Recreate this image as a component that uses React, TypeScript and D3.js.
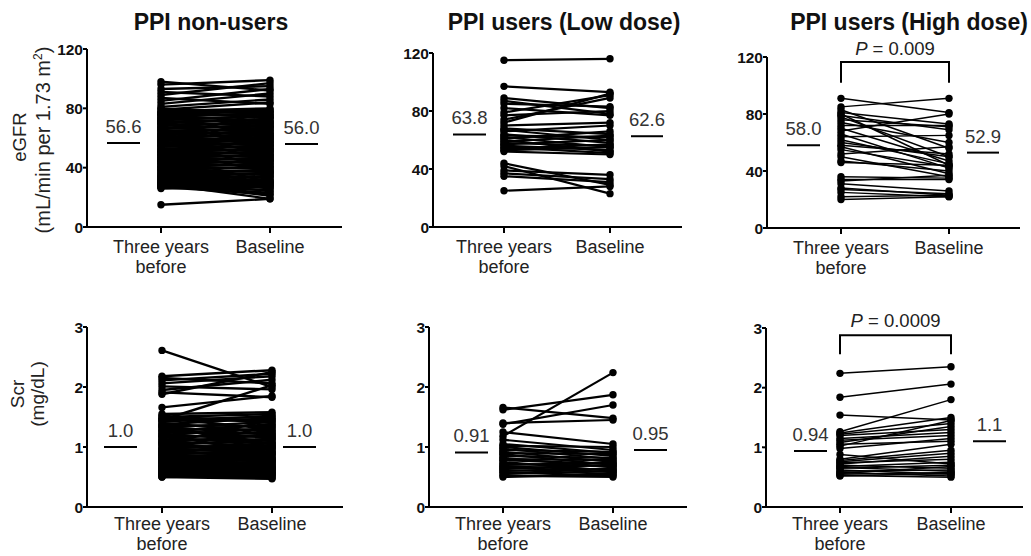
import React from "react";
import * as d3 from "d3";

// ---------- DATA ----------
const categories = ["Three years before", "Baseline"];
const categoryLines = [["Three years", "before"], ["Baseline"]];
const panelTitles = ["PPI non-users", "PPI users (Low dose)", "PPI users (High dose)"];
const egfrTicks = [0, 40, 80, 120];
const scrTicks = [0, 1, 2, 3];
const egfrMeanLabels = [["56.6", "56.0"], ["63.8", "62.6"], ["58.0", "52.9"]];
const scrMeanLabels = [["1.0", "1.0"], ["0.91", "0.95"], ["0.94", "1.1"]];
const egfrPValues = ["", "", "0.009"];
const scrPValues = ["", "", "0.0009"];

// [three years before, baseline]
const egfrNonUsers: [number, number][] = [
  [98, 92], [96, 99], [93, 95], [91, 88], [89, 97], [87, 83], [85, 93], [83, 90], [81, 86], [80, 76], [79, 84],
  [78, 80], [77, 74], [76, 78], [75, 71], [74, 77], [73, 70], [72, 75], [71, 68], [70, 73], [69, 66], [68, 71], [67, 64],
  [66, 69], [65, 62], [64, 67], [63, 60], [62, 65], [61, 58], [60, 63], [59, 57], [58, 61], [57, 55], [56, 59], [55, 53],
  [54, 57], [53, 51], [52, 55], [51, 49], [50, 53], [49, 47], [48, 51], [47, 45], [46, 49], [45, 43], [44, 47], [43, 41],
  [42, 45], [41, 39], [40, 43], [39, 37], [38, 41], [37, 35], [36, 38], [35, 33], [34, 36], [33, 31], [32, 34], [31, 29],
  [30, 31], [29, 27], [28, 29], [27, 25], [26, 27], [28, 23], [30, 21], [32, 24], [34, 26], [29, 19], [27, 22],
  [76, 60], [72, 52], [66, 48], [60, 78], [55, 74], [50, 68], [45, 62], [40, 30], [62, 45], [70, 55], [52, 37], [48, 30],
  [58, 40], [44, 28], [77, 79], [75, 76], [73, 74], [71, 72], [69, 70], [67, 68], [65, 66], [63, 64], [61, 62], [59, 60],
  [57, 58], [55, 56], [53, 54], [51, 52], [49, 50], [47, 48], [45, 46], [43, 44], [41, 42], [39, 40], [37, 38], [35, 36],
  [33, 34], [31, 32], [29, 30], [27, 28], [15, 19],
];
const egfrLowDose: [number, number][] = [
  [115, 116], [97, 93], [89, 82], [87, 78], [85, 83], [82, 77], [79, 91], [77, 80], [74, 89], [72, 92], [70, 72], [68, 64], [67, 60], [66, 70],
  [64, 58], [63, 62], [62, 55], [61, 66], [60, 52], [59, 63], [58, 56], [57, 60], [56, 53], [55, 51], [54, 57], [53, 55], [52, 50],
  [44, 29], [42, 23], [39, 36], [37, 33], [35, 31], [25, 28],
];
const egfrHighDose: [number, number][] = [
  [91, 81], [85, 91], [83, 56], [81, 73], [80, 44], [79, 69], [78, 50], [76, 71], [74, 60], [72, 72], [70, 47], [68, 80], [66, 42], [64, 65],
  [62, 45], [60, 50], [58, 52], [57, 38], [55, 43], [52, 57], [50, 36], [47, 40], [46, 44], [36, 35], [34, 34], [33, 37], [31, 26], [28, 23],
  [27, 24], [25, 22], [22, 23], [20, 22],
];
const scrNonUsers: [number, number][] = [
  [2.61, 2.0], [2.18, 2.28], [2.15, 2.06], [2.11, 2.22], [2.06, 2.18], [2.01, 1.96], [1.95, 2.12], [1.91, 1.83], [1.88, 2.25], [1.66, 1.85], [1.45, 2.03],
  [1.55, 1.58], [1.52, 1.4], [1.5, 1.55], [1.48, 1.3], [1.46, 1.5], [1.45, 1.45], [1.42, 1.52], [1.4, 1.25], [1.38, 1.48], [1.36, 1.35], [1.34, 1.2],
  [1.32, 1.42], [1.3, 1.28], [1.28, 1.15], [1.26, 1.38], [1.25, 1.22], [1.22, 1.1], [1.2, 1.32], [1.18, 1.18], [1.16, 1.05], [1.15, 1.25], [1.12, 1.12],
  [1.1, 1.0], [1.08, 1.2], [1.06, 1.08], [1.05, 0.95], [1.02, 1.14], [1.0, 1.02], [0.98, 0.9], [0.97, 1.06], [0.95, 0.98], [0.93, 0.85], [0.92, 1.0],
  [0.9, 0.92], [0.88, 0.8], [0.87, 0.96], [0.85, 0.88], [0.83, 0.76], [0.82, 0.9], [0.8, 0.82], [0.79, 0.72], [0.78, 0.86], [0.76, 0.78], [0.75, 0.68],
  [0.74, 0.8], [0.72, 0.74], [0.71, 0.65], [0.7, 0.76], [0.68, 0.7], [0.67, 0.62], [0.66, 0.72], [0.65, 0.66], [0.63, 0.58], [0.62, 0.68], [0.61, 0.62],
  [0.6, 0.55], [0.58, 0.64], [0.57, 0.58], [0.56, 0.52], [0.55, 0.6], [0.54, 0.55], [0.53, 0.48], [0.52, 0.56], [0.51, 0.5], [0.5, 0.47], [0.5, 0.53],
  [1.05, 1.45], [0.95, 1.35], [0.85, 1.15], [0.75, 1.0], [1.35, 1.05], [1.2, 0.9], [1.1, 0.8], [0.9, 0.65],
];
const scrLowDose: [number, number][] = [
  [1.66, 1.48], [1.62, 1.87], [1.4, 1.45], [1.38, 1.7], [1.25, 1.05], [1.18, 2.24], [1.12, 0.95], [1.05, 0.9], [1.02, 1.0], [1.0, 0.85],
  [0.97, 0.8], [0.95, 0.92], [0.92, 0.75], [0.9, 0.88], [0.88, 0.7], [0.85, 0.82], [0.82, 0.66], [0.8, 0.78], [0.78, 0.72], [0.75, 0.6],
  [0.72, 0.68], [0.7, 0.74], [0.68, 0.62], [0.66, 0.58], [0.64, 0.7], [0.62, 0.55], [0.6, 0.64], [0.58, 0.52], [0.55, 0.6], [0.52, 0.5], [0.5, 0.55],
];
const scrHighDose: [number, number][] = [
  [2.24, 2.35], [1.84, 2.06], [1.54, 1.46], [1.26, 1.8], [1.24, 1.5], [1.22, 1.4], [1.2, 1.3], [1.15, 1.25], [1.12, 1.2], [1.08, 1.35],
  [1.05, 1.1], [1.02, 1.45], [0.98, 1.15], [0.88, 0.72], [0.8, 1.05], [0.78, 0.95], [0.76, 0.9], [0.74, 0.8], [0.72, 0.85], [0.7, 0.65],
  [0.68, 0.75], [0.66, 0.6], [0.65, 0.7], [0.62, 0.55], [0.6, 0.62], [0.58, 0.52], [0.56, 0.68], [0.55, 0.58], [0.53, 0.5], [0.52, 0.56],
];

// ---------- LAYOUT ----------
type Layout = {
  ax: number; xEnd: number; yTop: number; y0: number; c0: number; c1: number;
  mL: [number, number]; mR: [number, number]; bracket?: [number, number]; pY?: number; stroke: number; labOff: number;
};
const topLayouts: Layout[] = [
  { ax: 87, xEnd: 342, yTop: 49, y0: 227, c0: 161, c1: 270, mL: [107, 140], mR: [285, 318], stroke: 2.4, labOff: 26 },
  { ax: 433, xEnd: 682, yTop: 53, y0: 227, c0: 504, c1: 610, mL: [453, 486], mR: [631, 663], stroke: 2.2, labOff: 26 },
  { ax: 767, xEnd: 1020, yTop: 57, y0: 228, c0: 841, c1: 949, mL: [787, 820], mR: [967, 999], bracket: [116.5, 102], pY: 55, stroke: 1.5, labOff: 26 },
];
const bottomLayouts: Layout[] = [
  { ax: 87, xEnd: 343, yTop: 327, y0: 507, c0: 162, c1: 272, mL: [104, 137], mR: [283, 316], stroke: 2.4, labOff: 23 },
  { ax: 429, xEnd: 687, yTop: 327, y0: 507, c0: 503, c1: 613, mL: [455, 488], mR: [634, 667], stroke: 2.2, labOff: 23 },
  { ax: 766, xEnd: 1023, yTop: 328, y0: 507, c0: 840, c1: 951, mL: [794, 827], mR: [973, 1006], bracket: [2.88, 2.56], pY: 327, stroke: 1.5, labOff: 23 },
];
const titleX = [211, 564, 909];
const FONT = "'Liberation Sans', Arial, Helvetica, sans-serif";

function Panel({ data, ticks, means, pValue, L }: { data: [number, number][]; ticks: number[]; means: string[]; pValue: string; L: Layout }) {
  const y = d3.scaleLinear().domain([ticks[0], ticks[ticks.length - 1]]).range([L.y0, L.yTop]);
  const x = d3.scalePoint<string>().domain(categories).range([L.c0, L.c1]).padding(0);
  const line = d3.line<[string, number]>().x((d) => x(d[0]) as number).y((d) => y(d[1]));
  const xb = x(categories[0]) as number;
  const xa = x(categories[1]) as number;
  return (
    <g>
      {data.map((d, i) => (
        <path key={"l" + i} d={line([[categories[0], d[0]], [categories[1], d[1]]]) as string} stroke="#000" strokeWidth={L.stroke} fill="none" />
      ))}
      {data.map((d, i) => (
        <g key={"p" + i}>
          <circle cx={xb} cy={y(d[0])} r={3.7} fill="#000" />
          <circle cx={xa} cy={y(d[1])} r={3.7} fill="#000" />
        </g>
      ))}
      {/* axes */}
      <line x1={L.ax} x2={L.ax} y1={L.yTop} y2={L.y0 + 1} stroke="#000" strokeWidth={2} />
      <line x1={L.ax - 1} x2={L.xEnd} y1={L.y0} y2={L.y0} stroke="#000" strokeWidth={2} />
      {ticks.map((t) => (
        <g key={"t" + t}>
          <line x1={L.ax - 4} x2={L.ax} y1={y(t)} y2={y(t)} stroke="#000" strokeWidth={2} />
          <text x={L.ax - 4} y={y(t)} dy="0.36em" textAnchor="end" fontWeight="bold" fontSize={15.5} fontFamily={FONT} fill="#111">{t}</text>
        </g>
      ))}
      {categories.map((c, i) => (
        <g key={"c" + c}>
          <line x1={x(c)} x2={x(c)} y1={L.y0} y2={L.y0 + 6} stroke="#000" strokeWidth={2} />
          {categoryLines[i].map((s, j) => (
            <text key={s} x={x(c)} y={L.y0 + L.labOff + j * 19.5} textAnchor="middle" fontSize={18} fontFamily={FONT} fill="#222">{s}</text>
          ))}
        </g>
      ))}
      {/* means */}
      {[L.mL, L.mR].map((m, i) => {
        const yy = y(parseFloat(means[i]));
        return (
          <g key={"m" + i}>
            <line x1={m[0]} x2={m[1]} y1={yy} y2={yy} stroke="#000" strokeWidth={2} />
            <text x={(m[0] + m[1]) / 2} y={yy - 10} textAnchor="middle" fontSize={18.5} fontFamily={FONT} fill="#333">{means[i]}</text>
          </g>
        );
      })}
      {pValue && L.bracket && (
        <g>
          <path d={`M${xb},${y(L.bracket[1])}V${y(L.bracket[0])}H${xa}V${y(L.bracket[1])}`} stroke="#000" strokeWidth={2} fill="none" />
          <text x={(xb + xa) / 2} y={L.pY} textAnchor="middle" fontSize={18.5} fontFamily={FONT} fill="#222">
            <tspan fontStyle="italic">P</tspan> = {pValue}
          </text>
        </g>
      )}
    </g>
  );
}

export default function App() {
  const egfrData = [egfrNonUsers, egfrLowDose, egfrHighDose];
  const scrData = [scrNonUsers, scrLowDose, scrHighDose];
  return (
    <svg width={1031} height={556} style={{ position: "absolute", left: 0, top: 0, background: "#fff" }}>
      <rect width={1031} height={556} fill="#fff" />
      {panelTitles.map((t, i) => (
        <text key={t} x={titleX[i]} y={30} textAnchor="middle" fontWeight="bold" fontSize={23} fontFamily={FONT} fill="#111">{t}</text>
      ))}
      {topLayouts.map((L, i) => (
        <Panel key={"top" + i} data={egfrData[i]} ticks={egfrTicks} means={egfrMeanLabels[i]} pValue={egfrPValues[i]} L={L} />
      ))}
      {bottomLayouts.map((L, i) => (
        <Panel key={"bot" + i} data={scrData[i]} ticks={scrTicks} means={scrMeanLabels[i]} pValue={scrPValues[i]} L={L} />
      ))}
      {/* y-axis titles */}
      <g fontFamily={FONT} fill="#222" textAnchor="middle">
        <text transform="translate(26,137) rotate(-90)" fontSize={18.5}>eGFR</text>
        <text transform="translate(50,140) rotate(-90)" fontSize={20}>(mL/min per 1.73 m<tspan fontSize={12} dy={-8}>2</tspan><tspan dy={8}>)</tspan></text>
        <text transform="translate(24,394) rotate(-90)" fontSize={19}>Scr</text>
        <text transform="translate(44,394) rotate(-90)" fontSize={19}>(mg/dL)</text>
      </g>
    </svg>
  );
}
